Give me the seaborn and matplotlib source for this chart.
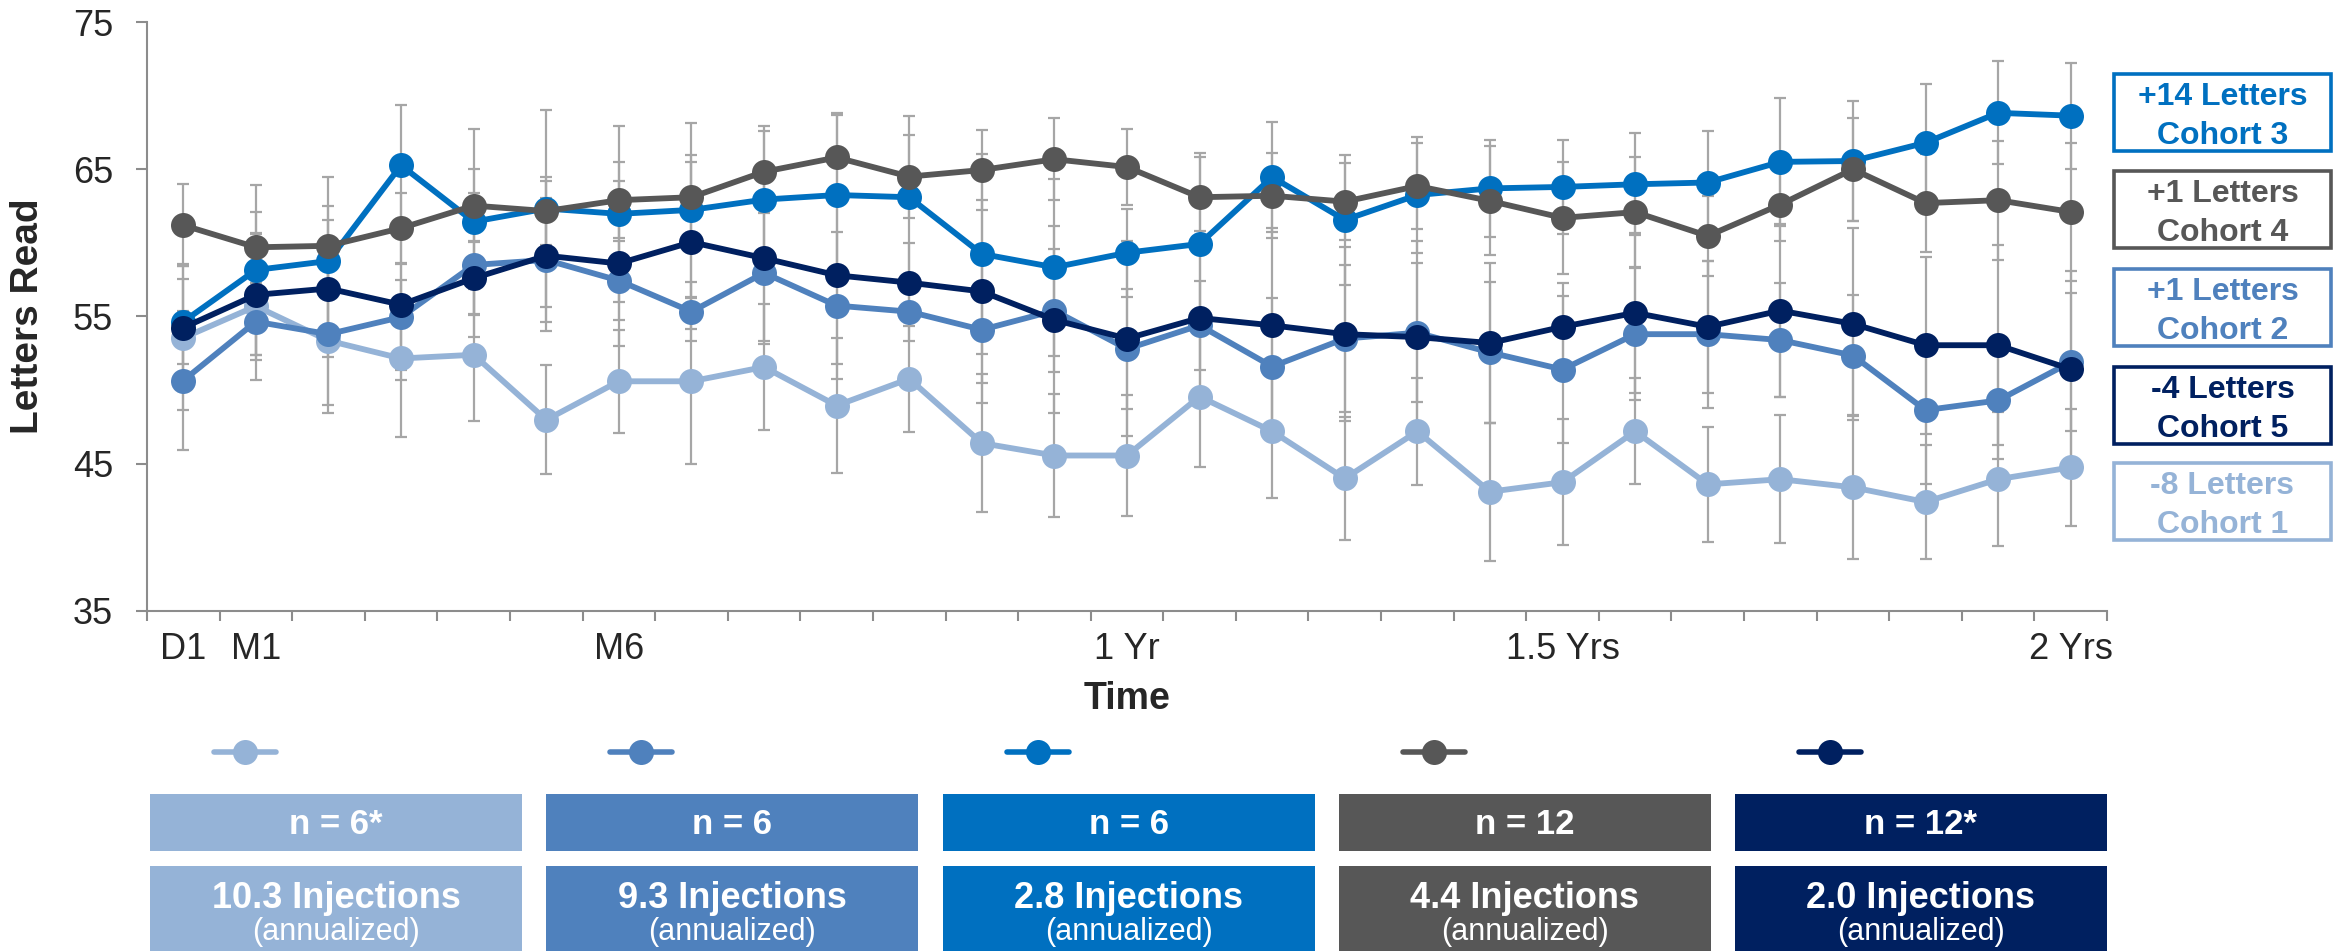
import numpy as np
import pandas as pd
import matplotlib
matplotlib.use("Agg")
import matplotlib.pyplot as plt
from matplotlib.patches import Rectangle
from matplotlib.lines import Line2D
import seaborn as sns

# ---------------- data ----------------
slot_labels = ['D1', 'M1', '', '', '', '', 'M6', '', '', '', '', '', '', '1 Yr',
               '', '', '', '', '', '1.5 Yrs', '', '', '', '', '', '', '2 Yrs']

cohorts = ['Cohort 1', 'Cohort 2', 'Cohort 3', 'Cohort 4', 'Cohort 5']

cohort1 = [53.55, 55.7, 53.36, 52.15, 52.4, 47.98, 50.6, 50.6, 51.57, 48.95, 50.77, 46.4, 45.56,
           45.56, 49.56, 47.2, 44.0, 47.2, 43.1, 43.75, 47.2, 43.6, 43.95, 43.4, 42.4, 43.95, 44.75]
cohort1_err = [4.9, 5.0, 4.9, 5.3, 4.5, 3.7, 3.5, 5.65, 4.25, 4.6, 3.6, 4.7, 4.2,
               4.1, 4.8, 4.5, 4.2, 3.65, 4.7, 4.3, 3.6, 3.9, 4.35, 4.9, 3.9, 4.55, 4.0]

cohort2 = [50.65, 54.65, 53.8, 54.96, 58.5, 58.84, 57.44, 55.33, 57.96, 55.74, 55.33, 54.1, 55.4,
           52.8, 54.4, 51.6, 53.5, 53.9, 52.56, 51.4, 53.8, 53.8, 53.4, 52.35, 48.64, 49.3, 51.9]
cohort2_err = [4.75, 2.6, 4.8, 3.6, 4.9, 4.2, 2.7, 2.0, 4.8, 5.0, 2.0, 5.0, 4.2,
               4.05, 3.0, 4.65, 5.0, 4.7, 4.8, 5.0, 4.5, 5.0, 3.9, 4.1, 5.0, 4.0, 4.7]

cohort3 = [54.65, 58.16, 58.77, 65.27, 61.44, 62.33, 61.97, 62.24, 62.94, 63.25, 63.1, 59.25, 58.34,
           59.33, 59.93, 64.47, 61.56, 63.25, 63.7, 63.8, 63.98, 64.1, 65.5, 65.56, 66.8, 68.83, 68.64]
cohort3_err = [2.9, 5.8, 5.7, 4.1, 6.3, 6.7, 6.0, 5.9, 5.0, 5.6, 5.5, 6.8, 6.0,
               3.0, 5.9, 3.75, 4.4, 3.95, 3.3, 3.2, 3.45, 3.5, 4.35, 4.05, 4.0, 3.5, 3.6]

cohort4 = [61.2, 59.7, 59.8, 61.0, 62.53, 62.16, 62.9, 63.1, 64.83, 65.8, 64.5, 64.95, 65.68,
           65.15, 63.1, 63.2, 62.8, 63.86, 62.85, 61.7, 62.09, 60.47, 62.6, 65.0, 62.7, 62.9, 62.1]
cohort4_err = [2.8, 2.4, 2.7, 2.4, 2.5, 2.3, 2.6, 2.4, 2.8, 2.9, 2.8, 2.7, 2.8,
               2.6, 3.0, 2.9, 2.6, 2.9, 3.7, 3.8, 3.75, 2.7, 2.5, 3.5, 3.35, 4.05, 4.7]

cohort5 = [54.24, 56.47, 56.9, 55.8, 57.6, 59.13, 58.6, 60.05, 58.96, 57.8, 57.3, 56.7, 54.77,
           53.5, 54.9, 54.4, 53.8, 53.6, 53.2, 54.3, 55.25, 54.3, 55.4, 54.5, 53.05, 53.05, 51.42]
cohort5_err = [4.3, 4.1, 4.65, 5.1, 2.5, 5.1, 5.6, 5.9, 5.6, 6.0, 2.7, 6.2, 6.35,
               6.6, 5.9, 6.6, 5.9, 6.5, 5.4, 3.0, 5.45, 4.5, 5.9, 6.5, 6.0, 6.8, 6.7]

n_labels = ['n = 6*', 'n = 6', 'n = 6', 'n = 12', 'n = 12*']
injections = ['10.3', '9.3', '2.8', '4.4', '2.0']

change_order = ['Cohort 3', 'Cohort 4', 'Cohort 2', 'Cohort 5', 'Cohort 1']
change_labels = ['+14 Letters', '+1 Letters', '+1 Letters', '-4 Letters', '-8 Letters']

# ---------------- styles ----------------
palette = {'Cohort 1': '#95B3D7', 'Cohort 2': '#4F81BD', 'Cohort 3': '#0070C0',
           'Cohort 4': '#575757', 'Cohort 5': '#002060'}
err_color = '#A6A6A6'
axis_grey = '#8C8C8C'

values = {'Cohort 1': cohort1, 'Cohort 2': cohort2, 'Cohort 3': cohort3,
          'Cohort 4': cohort4, 'Cohort 5': cohort5}
errors = {'Cohort 1': cohort1_err, 'Cohort 2': cohort2_err, 'Cohort 3': cohort3_err,
          'Cohort 4': cohort4_err, 'Cohort 5': cohort5_err}

rows = []
for c in cohorts:
    for i, (v, e) in enumerate(zip(values[c], errors[c])):
        rows.append({'cohort': c, 'slot': i, 'value': v, 'err': e})
df = pd.DataFrame(rows)

sns.set_style('ticks')
plt.rcParams['font.family'] = ['Liberation Sans', 'DejaVu Sans']

W, H = 2341, 951
fig = plt.figure(figsize=(W / 100, H / 100), dpi=100)

ax_l, ax_r, ax_t, ax_b = 147, 2107, 22, 611
ax = fig.add_axes([ax_l / W, 1 - ax_b / H, (ax_r - ax_l) / W, (ax_b - ax_t) / H])

for c in cohorts:
    sub = df[df['cohort'] == c]
    ax.errorbar(sub['slot'], sub['value'], yerr=sub['err'], fmt='none',
                ecolor=err_color, elinewidth=1.6, capsize=4.5, capthick=1.6, zorder=1)

sns.lineplot(data=df, x='slot', y='value', hue='cohort', hue_order=cohorts,
             palette=palette, marker='o', markersize=18, markeredgewidth=0,
             linewidth=4.2, legend=False, errorbar=None, ax=ax, zorder=3)

ax.set_xlim(-0.5, len(slot_labels) - 0.5)
ax.set_ylim(35, 75)
ax.set_yticks([35, 45, 55, 65, 75])
ax.set_xticks(np.arange(-0.5, len(slot_labels), 1.0))
ax.set_xticklabels([])
lab_idx = [i for i, l in enumerate(slot_labels) if l]
ax.set_xticks(lab_idx, minor=True)
ax.set_xticklabels([slot_labels[i] for i in lab_idx], minor=True)

ax.tick_params(axis='x', which='major', bottom=True, direction='out', length=7.5,
               width=1.5, color=axis_grey)
ax.tick_params(axis='x', which='minor', bottom=True, length=0, pad=15, labelsize=26)
ax.tick_params(axis='y', which='major', left=True, direction='out', length=8, width=1.5,
               color=axis_grey, pad=16.5, labelsize=26)
for s in ['top', 'right']:
    ax.spines[s].set_visible(False)
for s in ['left', 'bottom']:
    ax.spines[s].set_color(axis_grey)
    ax.spines[s].set_linewidth(1.5)

ax.set_xlabel('Time', fontsize=27, fontweight='bold')
ax.xaxis.set_label_coords(0.5, (ax_b - 699) / (ax_b - ax_t))
ax.xaxis.label.set_va('center')
ax.set_ylabel('Letters Read', fontsize=28, fontweight='bold')
ax.yaxis.set_label_coords((28 - ax_l) / (ax_r - ax_l), 0.5)
ax.yaxis.label.set_va('center')

# ---------------- overlay in pixel coordinates ----------------
ov = fig.add_axes([0, 0, 1, 1])
ov.set_xlim(0, W)
ov.set_ylim(H, 0)
ov.axis('off')

# right-hand change boxes
box_tops = [73, 170, 268, 366, 462]
bx0, bx1, bh = 2114, 2331, 77
for top, c, lab in zip(box_tops, change_order, change_labels):
    col = palette[c]
    ov.add_patch(Rectangle((bx0, top + 1), bx1 - bx0, bh, facecolor='white',
                           edgecolor=col, linewidth=2.6))
    cx = (bx0 + bx1) / 2
    ov.text(cx, top + 20.5 + 11.5, lab, ha='center', va='baseline', fontsize=23,
            fontweight='bold', color=col)
    ov.text(cx, top + 59.5 + 11.5, c, ha='center', va='baseline', fontsize=23,
            fontweight='bold', color=col)

# bottom info boxes
lefts = [150, 546, 943, 1339, 1735]
bw = 372
for left, c, nl, inj in zip(lefts, cohorts, n_labels, injections):
    col = palette[c]
    ov.add_patch(Rectangle((left, 794), bw, 57, facecolor=col, edgecolor='none'))
    ov.add_patch(Rectangle((left, 866), bw, 90, facecolor=col, edgecolor='none'))
    cx = left + bw / 2
    ov.text(cx, 834.5, nl, ha='center', va='baseline', fontsize=25,
            fontweight='bold', color='white')
    ov.text(cx, 908, inj + ' Injections', ha='center', va='baseline', fontsize=26,
            fontweight='bold', color='white')
    ov.text(cx, 940, '(annualized)', ha='center', va='baseline', fontsize=22,
            color='white')

# legend glyphs (line + marker) above the boxes
handles = [Line2D([], [], color=palette[c], lw=4.0, marker='o', markersize=18,
                  markeredgewidth=0) for c in cohorts]
fs = 20
fs_px = fs / 72 * 100
fig.legend(handles, [''] * len(cohorts), loc='center left',
           bbox_to_anchor=(214 / W, 1 - 755 / H), ncol=5, frameon=False,
           fontsize=fs, handlelength=62 / fs_px, handletextpad=0,
           columnspacing=(396.3 - 62) / fs_px, borderpad=0, borderaxespad=0,
           numpoints=1)

fig.savefig('out.png', dpi=100)
